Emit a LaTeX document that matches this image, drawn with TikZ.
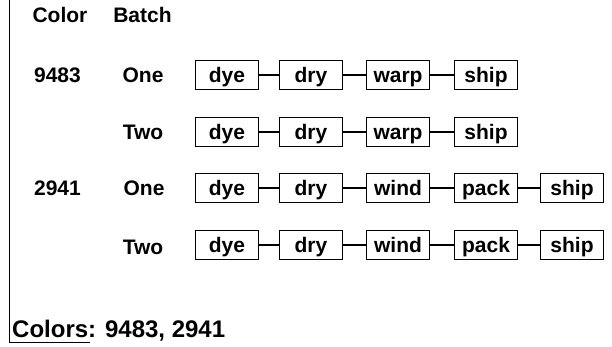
\documentclass[tikz,border=0pt]{standalone}
\usepackage{fontspec}
\setmainfont{Liberation Sans}
\begin{document}
\begin{tikzpicture}[x=1pt,y=-1pt,
  lbl/.style={font=\bfseries\fontsize{21}{23}\selectfont, inner sep=0pt},
  stepbox/.style={draw, line width=1.6pt, minimum width=63pt, minimum height=29pt, inner sep=0pt, text height=17.5pt, text depth=2.5pt, font=\bfseries\fontsize{21}{23}\selectfont},
  link/.style={line width=1.3pt}]
\useasboundingbox (0,0) rectangle (612,347);
% frame
\coordinate (ft) at (9.5,0);
\coordinate (fb) at (9.5,342.5);
\coordinate (fe) at (90,342.5);
\draw[line width=1.2pt] (ft) -- (fb) -- (fe);
% headers
\node[lbl] (hcolor) at (60,15) {Color};
\node[lbl] (hbatch) at (142.5,15) {Batch};
\node[lbl] (c1) at (57.5,75) {9483};
\node[lbl] (b11) at (143,75) {One};
\node[lbl] (b12) at (143,132) {Two};
\node[lbl] (c2) at (57.5,188) {2941};
\node[lbl] (b21) at (144,188) {One};
\node[lbl] (b22) at (143,247) {Two};
\node[lbl, font=\bfseries\fontsize{24}{26}\selectfont, anchor=base west] (foot) at (12,337) {Colors: 9483, 2941};
% row 1
\node[stepbox] (a1) at (227,75) {dye};
\node[stepbox] (a2) at (311,75) {dry};
\node[stepbox] (a3) at (398,75) {warp};
\node[stepbox] (a4) at (486,75) {ship};
\draw[link] (a1) -- (a2); \draw[link] (a2) -- (a3); \draw[link] (a3) -- (a4);
% row 2
\node[stepbox] (b1) at (227,132) {dye};
\node[stepbox] (b2) at (311,132) {dry};
\node[stepbox] (b3) at (398,132) {warp};
\node[stepbox] (b4) at (486,132) {ship};
\draw[link] (b1) -- (b2); \draw[link] (b2) -- (b3); \draw[link] (b3) -- (b4);
% row 3
\node[stepbox] (d1) at (227,188) {dye};
\node[stepbox] (d2) at (311,188) {dry};
\node[stepbox] (d3) at (398,188) {wind};
\node[stepbox] (d4) at (486,188) {pack};
\node[stepbox] (d5) at (572,188) {ship};
\draw[link] (d1) -- (d2); \draw[link] (d2) -- (d3); \draw[link] (d3) -- (d4); \draw[link] (d4) -- (d5);
% row 4
\node[stepbox] (e1) at (227,245) {dye};
\node[stepbox] (e2) at (311,245) {dry};
\node[stepbox] (e3) at (398,245) {wind};
\node[stepbox] (e4) at (486,245) {pack};
\node[stepbox] (e5) at (572,245) {ship};
\draw[link] (e1) -- (e2); \draw[link] (e2) -- (e3); \draw[link] (e3) -- (e4); \draw[link] (e4) -- (e5);
\end{tikzpicture}
\end{document}
